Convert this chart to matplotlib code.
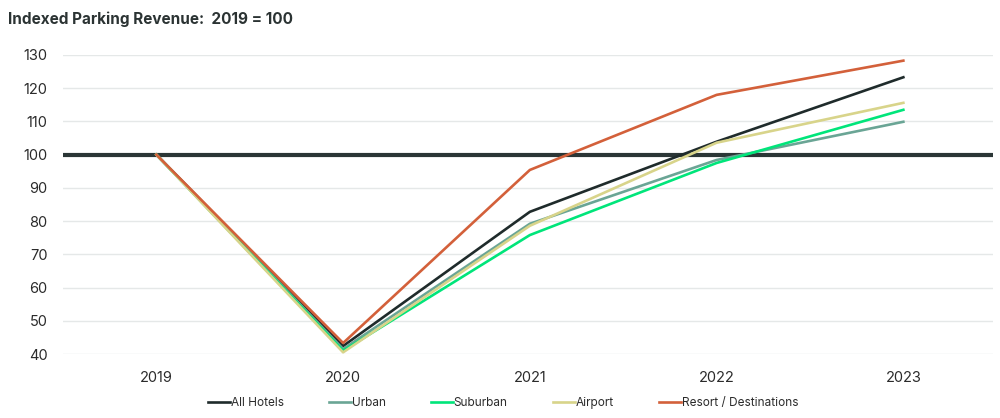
import matplotlib
matplotlib.use("Agg")
import matplotlib.pyplot as plt

plt.rcParams['font.family'] = ['Inter', 'DejaVu Sans']

years = ["2019", "2020", "2021", "2022", "2023"]
all_hotels = [100, 42.4, 82.8, 103.9, 123.3]
urban = [100, 41.5, 79.2, 98.4, 109.9]
suburban = [100, 41.0, 75.8, 97.5, 113.5]
airport = [100, 40.5, 78.6, 103.6, 115.6]
resort = [100, 43.3, 95.4, 118.0, 128.3]

series = [
    ("All Hotels", all_hotels, "#1f2b2b"),
    ("Urban", urban, "#6aa595"),
    ("Suburban", suburban, "#00e57a"),
    ("Airport", airport, "#d8d48a"),
    ("Resort / Destinations", resort, "#d3603a"),
]
yticks = [40, 50, 60, 70, 80, 90, 100, 110, 120, 130]

fig = plt.figure(figsize=(10, 4.18), dpi=100)
ax = fig.add_axes([0.063, 1 - 354 / 418, 0.93, (354 - 55) / 418])

x = list(range(len(years)))
for name, vals, col in series:
    ax.plot(x, vals, color=col, lw=1.9, label=name, clip_on=False, zorder=3)

for t in yticks:
    if t == 100:
        ax.axhline(t, color="#2b3636", lw=3, zorder=2)
    else:
        ax.axhline(t, color="#e5e8e8", lw=1, zorder=1)

ax.set_xlim(-0.5, 4.48)
ax.set_ylim(40, 130)
ax.set_xticks(x)
ax.set_xticklabels(years)
ax.set_yticks(yticks)
for s in ax.spines.values():
    s.set_visible(False)
ax.tick_params(axis='both', length=0, labelsize=10.5, colors="#2b2b2b")
ax.tick_params(axis='y', pad=11)
ax.tick_params(axis='x', pad=12)

fig.text(0.008, 0.955, "Indexed Parking Revenue:  2019 = 100", fontsize=11,
         fontweight='bold', color="#2b3333", va='center', ha='left')

handles, labels = ax.get_legend_handles_labels()
fig.legend(handles, labels, loc='center', bbox_to_anchor=(0.503, 0.035), ncol=5,
           frameon=False, fontsize=8.5, handlelength=1.9, handletextpad=0.05,
           columnspacing=3.8, labelcolor="#2b2b2b")

fig.savefig("out.png", dpi=100)
